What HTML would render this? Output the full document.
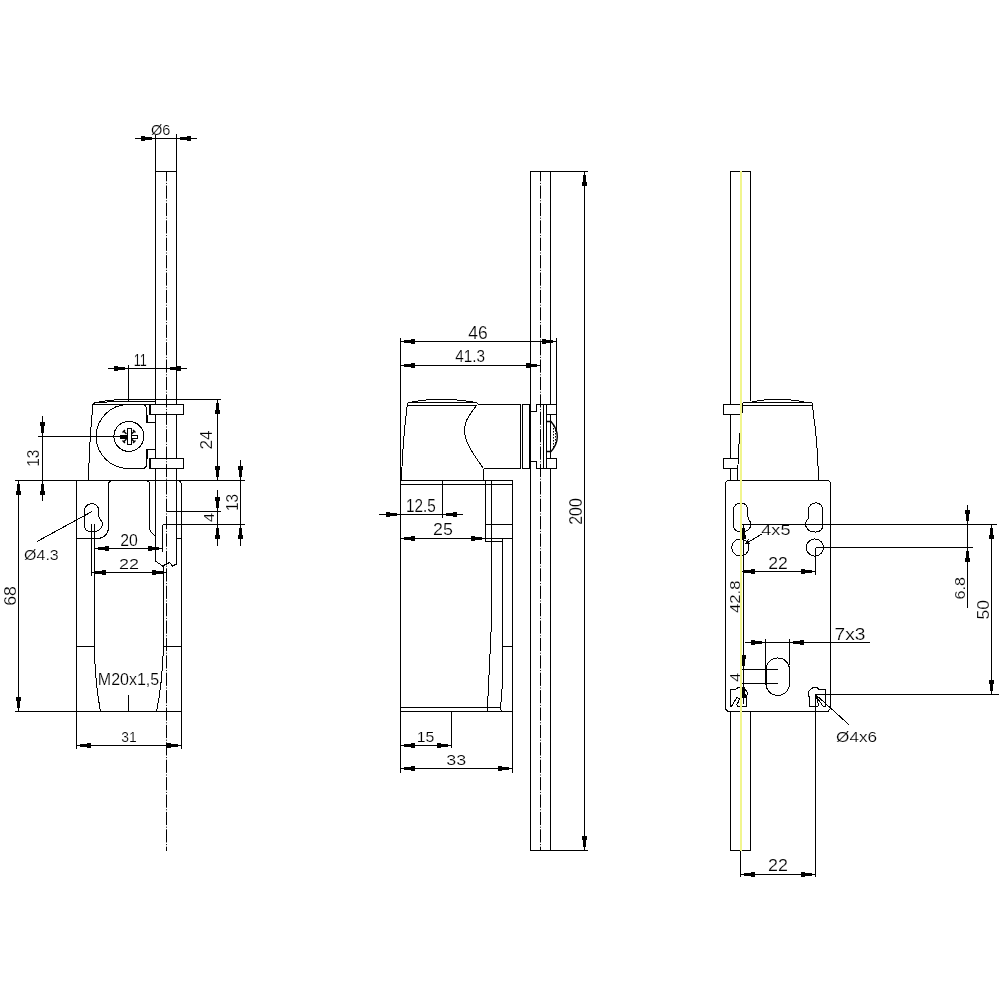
<!DOCTYPE html>
<html lang="en">
<head>
<meta charset="utf-8">
<title>Limit switch dimension drawing</title>
<style>
html,body{margin:0;padding:0;background:#fff;}
body{width:1000px;height:1000px;overflow:hidden;}
svg{display:block;will-change:transform;}
.l{stroke:#000;stroke-width:1;fill:none;shape-rendering:crispEdges;}
.lw{stroke:#000;stroke-width:1;fill:#fff;shape-rendering:crispEdges;}
.lf{stroke:#000;stroke-width:1;fill:#000;shape-rendering:crispEdges;}
.c{stroke:#000;stroke-width:1;fill:none;shape-rendering:crispEdges;}
.ck{stroke:#000;stroke-width:1.4;fill:none;}
.cd{stroke:#000;stroke-width:1;fill:none;stroke-dasharray:1.5 1.5;}
.cl{stroke:#000;stroke-width:1;fill:none;stroke-dasharray:13.2 1.6 1 1.6;stroke-dashoffset:3.4;}
.y{stroke:#f1f58e;stroke-width:2;fill:none;shape-rendering:crispEdges;}
.a{fill:#000;stroke:none;shape-rendering:crispEdges;}
text{font-family:"Liberation Sans",sans-serif;font-size:16px;fill:#000;stroke:#fff;stroke-width:0.18px;}
</style>
</head>
<body>
<svg width="1000" height="1000" viewBox="0 0 1000 1000">
<rect x="0" y="0" width="1000" height="1000" fill="#fff"/>
<line class="l" x1="155.5" y1="133.5" x2="155.5" y2="404.5"/>
<line class="l" x1="176.5" y1="133.5" x2="176.5" y2="404.5"/>
<line class="l" x1="155.5" y1="414.5" x2="155.5" y2="458.5"/>
<line class="l" x1="176.5" y1="414.5" x2="176.5" y2="458.5"/>
<line class="l" x1="155.5" y1="468.5" x2="155.5" y2="561"/>
<line class="l" x1="176.5" y1="468.5" x2="176.5" y2="564"/>
<line class="l" x1="155.5" y1="171.5" x2="176.5" y2="171.5"/>
<line class="cl" x1="166.5" y1="171.5" x2="166.5" y2="851"/>
<line class="l" x1="135" y1="138.5" x2="197" y2="138.5"/>
<rect class="a" x="145.0" y="137.0" width="7.0" height="3.0"/>
<rect class="a" x="141.0" y="136.0" width="4.0" height="5.0"/>
<rect class="a" x="180.0" y="137.0" width="7.0" height="3.0"/>
<rect class="a" x="187.0" y="136.0" width="4.0" height="5.0"/>
<text x="160.75" y="134.5" text-anchor="middle" textLength="19.4" lengthAdjust="spacingAndGlyphs" style="font-size:15.5px">Ø6</text>
<line class="l" x1="108" y1="368.5" x2="187" y2="368.5"/>
<line class="l" x1="128.5" y1="365" x2="128.5" y2="402"/>
<rect class="a" x="118.0" y="367.0" width="7.0" height="3.0"/>
<rect class="a" x="114.0" y="366.0" width="4.0" height="5.0"/>
<rect class="a" x="170.0" y="367.0" width="7.0" height="3.0"/>
<rect class="a" x="177.0" y="366.0" width="4.0" height="5.0"/>
<text x="140.3" y="365.5" text-anchor="middle" textLength="13.1" lengthAdjust="spacingAndGlyphs" style="font-size:16px">11</text>
<line class="l" x1="120" y1="399.5" x2="221" y2="399.5"/>
<path class="c" d="M94.5,403 Q105,400.5 120,399.5"/>
<path class="c" d="M95.5,402.2 L155.5,401.2"/>
<line class="l" x1="93" y1="404.5" x2="149.5" y2="404.5"/>
<path class="c" d="M94.5,402.8 L93,404.5 Q89.3,440 88.5,480.5"/>
<path class="c" d="M155.5,422.5 H146.5 V409 Q146.5,404.5 142,404.5 H128.2 A32,32 0 0 0 128.2,468.5 H142 Q146.5,468.5 146.5,464 V449.5 H155.5"/>
<path class="l" d="M147.5,414.5 V422.5"/>
<path class="l" d="M147.5,449.5 V458.5"/>
<rect class="l" x="149.5" y="404.5" width="34.0" height="10.0"/>
<rect class="l" x="149.5" y="458.5" width="34.0" height="10.0"/>
<line class="l" x1="150.5" y1="404.5" x2="150.5" y2="414.5"/>
<line class="l" x1="150.5" y1="458.5" x2="150.5" y2="468.5"/>
<circle class="c" cx="128.9" cy="436.4" r="15"/>
<rect class="lw" x="127" y="428.5" width="4" height="16.0"/>
<rect class="lw" x="131" y="435" width="6.5" height="3"/>
<rect class="lf" x="120.5" y="435" width="6.5" height="3"/>
<path class="ck" d="M123.5,431 L126.5,434 M134.5,431 L131.5,434 M123.5,442 L126.5,439 M134.5,442 L131.5,439"/>
<path class="ck" d="M122.5,432.5 L125,430 M133,430 L135.5,432.5 M122.5,440.5 L125,443 M133,443 L135.5,440.5"/>
<line class="l" x1="38" y1="436.5" x2="127" y2="436.5"/>
<line class="l" x1="15" y1="480.5" x2="245" y2="480.5"/>
<line class="l" x1="76.5" y1="480.5" x2="76.5" y2="748.5"/>
<path class="c" d="M177,480.5 Q181.5,481 181.5,485.5"/>
<line class="l" x1="181.5" y1="485" x2="181.5" y2="748.5"/>
<line class="l" x1="15" y1="711.5" x2="181.5" y2="711.5"/>
<path class="c" d="M108.5,483 V527.5 A11,11 0 0 1 97.5,538.5 H76.5"/>
<path class="c" d="M108.5,484 Q108.5,481.5 111,481.5"/>
<path class="c" d="M149.5,483 V527.5 Q150,533 155.5,536"/>
<path class="c" d="M149.5,484 Q149.5,481.5 147,481.5"/>
<line class="l" x1="176.5" y1="538.5" x2="181.5" y2="538.5"/>
<line class="l" x1="76.5" y1="646.5" x2="94.5" y2="646.5"/>
<line class="l" x1="164" y1="646.5" x2="181.5" y2="646.5"/>
<line class="l" x1="91.5" y1="524" x2="91.5" y2="576"/>
<path class="c" d="M94.5,524 V652 Q95.3,684 100.5,711.5"/>
<path class="c" d="M163.5,566 V646.5 Q162.3,684 156.5,711.5"/>
<line class="l" x1="128.5" y1="694.5" x2="128.5" y2="711.5"/>
<path class="c" d="M84.5,510 A7.2,7.2 0 0 1 98.8,510 V516 Q99,518.5 101,520.5 Q103.5,523.5 101.5,527 Q99,531.8 93,531.8 H91 Q84.5,531.5 84.5,525 Z"/>
<path class="c" d="M37,541.5 L92,511.5"/>
<text x="24.1" y="559.5" text-anchor="start" textLength="34.6" lengthAdjust="spacingAndGlyphs" style="font-size:15.3px">Ø4.3</text>
<path class="c" d="M155.5,561 L162.5,566 L169.5,562.5 L172.5,566 L176.5,564"/>
<line class="l" x1="94.5" y1="548.5" x2="162.5" y2="548.5"/>
<line class="l" x1="162.5" y1="524.5" x2="162.5" y2="551.5"/>
<rect class="a" x="98.0" y="547.0" width="7.0" height="3.0"/>
<rect class="a" x="105.0" y="546.0" width="4.0" height="5.0"/>
<rect class="a" x="152.0" y="547.0" width="7.0" height="3.0"/>
<rect class="a" x="148.0" y="546.0" width="4.0" height="5.0"/>
<text x="129.1" y="545.8" text-anchor="middle" textLength="17.6" lengthAdjust="spacingAndGlyphs" style="font-size:17px">20</text>
<line class="l" x1="91.5" y1="572.5" x2="166" y2="572.5"/>
<rect class="a" x="95.0" y="571.0" width="7.0" height="3.0"/>
<rect class="a" x="102.0" y="570.0" width="4.0" height="5.0"/>
<rect class="a" x="155.5" y="571.0" width="7.0" height="3.0"/>
<rect class="a" x="151.5" y="570.0" width="4.0" height="5.0"/>
<text x="129.1" y="568.6" text-anchor="middle" textLength="20.0" lengthAdjust="spacingAndGlyphs" style="font-size:15.5px">22</text>
<line class="l" x1="76.5" y1="745.5" x2="181.5" y2="745.5"/>
<rect class="a" x="80.0" y="744.0" width="7.0" height="3.0"/>
<rect class="a" x="87.0" y="743.0" width="4.0" height="5.0"/>
<rect class="a" x="171.0" y="744.0" width="7.0" height="3.0"/>
<rect class="a" x="167.0" y="743.0" width="4.0" height="5.0"/>
<text x="129" y="741.5" text-anchor="middle" textLength="15.4" lengthAdjust="spacingAndGlyphs" style="font-size:15px">31</text>
<line class="l" x1="18.5" y1="480.5" x2="18.5" y2="711.5"/>
<rect class="a" x="17.0" y="484.0" width="3.0" height="7.0"/>
<rect class="a" x="16.0" y="491.0" width="5.0" height="4.0"/>
<rect class="a" x="17.0" y="701.0" width="3.0" height="7.0"/>
<rect class="a" x="16.0" y="697.0" width="5.0" height="4.0"/>
<text transform="translate(16 596) rotate(-90)" text-anchor="middle" textLength="19.6" lengthAdjust="spacingAndGlyphs" style="font-size:16.5px">68</text>
<line class="l" x1="42.5" y1="416" x2="42.5" y2="500.5"/>
<rect class="a" x="41.0" y="426.0" width="3.0" height="7.0"/>
<rect class="a" x="40.0" y="422.0" width="5.0" height="4.0"/>
<rect class="a" x="41.0" y="484.0" width="3.0" height="7.0"/>
<rect class="a" x="40.0" y="491.0" width="5.0" height="4.0"/>
<text transform="translate(38.8 458.2) rotate(-90)" text-anchor="middle" textLength="17.0" lengthAdjust="spacingAndGlyphs" style="font-size:16.2px">13</text>
<line class="l" x1="217.5" y1="399.5" x2="217.5" y2="480.5"/>
<rect class="a" x="216.0" y="403.0" width="3.0" height="7.0"/>
<rect class="a" x="215.0" y="410.0" width="5.0" height="4.0"/>
<rect class="a" x="216.0" y="470.0" width="3.0" height="7.0"/>
<rect class="a" x="215.0" y="466.0" width="5.0" height="4.0"/>
<text transform="translate(211.8 440) rotate(-90)" text-anchor="middle" textLength="19.0" lengthAdjust="spacingAndGlyphs" style="font-size:16px">24</text>
<line class="l" x1="240.5" y1="460" x2="240.5" y2="545.5"/>
<rect class="a" x="239.0" y="470.0" width="3.0" height="7.0"/>
<rect class="a" x="238.0" y="466.0" width="5.0" height="4.0"/>
<rect class="a" x="239.0" y="528.0" width="3.0" height="7.0"/>
<rect class="a" x="238.0" y="535.0" width="5.0" height="4.0"/>
<text transform="translate(237.9 502.6) rotate(-90)" text-anchor="middle" textLength="16.9" lengthAdjust="spacingAndGlyphs" style="font-size:16px">13</text>
<line class="l" x1="217.5" y1="490" x2="217.5" y2="545.5"/>
<rect class="a" x="216.0" y="501.0" width="3.0" height="7.0"/>
<rect class="a" x="215.0" y="497.0" width="5.0" height="4.0"/>
<rect class="a" x="216.0" y="528.0" width="3.0" height="7.0"/>
<rect class="a" x="215.0" y="535.0" width="5.0" height="4.0"/>
<text transform="translate(214.2 517.6) rotate(-90)" text-anchor="middle" textLength="9.4" lengthAdjust="spacingAndGlyphs" style="font-size:15.5px">4</text>
<line class="l" x1="166.5" y1="511.5" x2="221" y2="511.5"/>
<line class="l" x1="162.5" y1="524.5" x2="245" y2="524.5"/>
<text x="97.8" y="684.5" text-anchor="start" textLength="61.4" lengthAdjust="spacingAndGlyphs" style="font-size:16.2px">M20x1,5</text>
<path class="l" d="M587.5,171.5 H530.5 V850.5 H587.5"/>
<line class="l" x1="550.5" y1="171.5" x2="550.5" y2="404.5"/>
<line class="l" x1="550.5" y1="468.5" x2="550.5" y2="850.5"/>
<line class="cl" x1="540.5" y1="171.5" x2="540.5" y2="850.5"/>
<line class="l" x1="584.5" y1="171.5" x2="584.5" y2="850.5"/>
<rect class="a" x="583.0" y="175.0" width="3.0" height="7.0"/>
<rect class="a" x="582.0" y="182.0" width="5.0" height="4.0"/>
<rect class="a" x="583.0" y="840.0" width="3.0" height="7.0"/>
<rect class="a" x="582.0" y="836.0" width="5.0" height="4.0"/>
<text transform="translate(582 511.5) rotate(-90)" text-anchor="middle" textLength="26.6" lengthAdjust="spacingAndGlyphs" style="font-size:17.7px">200</text>
<line class="l" x1="400.5" y1="337.5" x2="400.5" y2="772.5"/>
<line class="l" x1="556.5" y1="337.5" x2="556.5" y2="430"/>
<line class="l" x1="400.5" y1="341.5" x2="556.5" y2="341.5"/>
<rect class="a" x="404.0" y="340.0" width="7.0" height="3.0"/>
<rect class="a" x="411.0" y="339.0" width="4.0" height="5.0"/>
<rect class="a" x="546.0" y="340.0" width="7.0" height="3.0"/>
<rect class="a" x="542.0" y="339.0" width="4.0" height="5.0"/>
<text x="478" y="338.8" text-anchor="middle" textLength="19.4" lengthAdjust="spacingAndGlyphs" style="font-size:18px">46</text>
<line class="l" x1="400.5" y1="365.5" x2="540.5" y2="365.5"/>
<rect class="a" x="404.0" y="364.0" width="7.0" height="3.0"/>
<rect class="a" x="411.0" y="363.0" width="4.0" height="5.0"/>
<rect class="a" x="530.0" y="364.0" width="7.0" height="3.0"/>
<rect class="a" x="526.0" y="363.0" width="4.0" height="5.0"/>
<text x="470.2" y="361.8" text-anchor="middle" textLength="29.8" lengthAdjust="spacingAndGlyphs" style="font-size:16px">41.3</text>
<path class="c" d="M407.5,403 Q402.3,445 401.5,480.5"/>
<line class="l" x1="408" y1="402.5" x2="476.5" y2="402.5"/>
<path class="c" d="M476.5,402.5 L478.5,404.5"/>
<line class="l" x1="407" y1="405.5" x2="476.5" y2="405.5"/>
<line class="l" x1="478" y1="404.5" x2="520.5" y2="404.5"/>
<path class="c" d="M410,402.3 Q416,401.2 422,400.5 Q428,399.6 434,399.5 H449.5 Q456,399.7 462,400.5 Q470,401.5 476,402.4"/>
<path class="c" d="M476.5,405.5 C470.5,414 464.5,420 464.5,430 C464.5,443 474,455 483.5,468.5"/>
<line class="l" x1="520.5" y1="404.5" x2="520.5" y2="468.5"/>
<line class="l" x1="483.5" y1="468.5" x2="520.5" y2="468.5"/>
<line class="l" x1="483.5" y1="468.5" x2="483.5" y2="480.5"/>
<rect class="l" x="522.5" y="404.5" width="7.0" height="64.0"/>
<path class="c" d="M529.5,411.5 H536.5 V404.5 H556.5"/>
<path class="c" d="M529.5,461.5 H536.5 V468.5 H556.5"/>
<line class="l" x1="543.5" y1="404.5" x2="543.5" y2="468.5"/>
<line class="l" x1="546.5" y1="404.5" x2="546.5" y2="468.5"/>
<path class="c" d="M546.5,414.5 H556.5 M556.5,404.5 V430 M546.5,458.5 H556.5 V468.5"/>
<path class="c" d="M550.5,414.5 V458.5"/>
<path class="ck" d="M546.5,421.5 H551 Q557.5,429 557.3,437 Q557,445 551,451.5 H546.5"/>
<path class="cd" d="M553.5,425 L553.5,448 M555.5,430 L555.5,444"/>
<line class="l" x1="400.5" y1="480.5" x2="512.5" y2="480.5"/>
<line class="l" x1="400.5" y1="484.5" x2="512.5" y2="484.5"/>
<line class="l" x1="512.5" y1="480.5" x2="512.5" y2="772.5"/>
<line class="l" x1="485.5" y1="480.5" x2="485.5" y2="541.5"/>
<line class="l" x1="485.5" y1="524.5" x2="512.5" y2="524.5"/>
<line class="l" x1="485.5" y1="541.5" x2="502.5" y2="541.5"/>
<line class="l" x1="485.5" y1="538.5" x2="512.5" y2="538.5"/>
<path class="c" d="M491.5,480.5 V622 L487.3,711.5"/>
<path class="c" d="M502.5,538.5 V683 L500.5,708 L501.5,711.5"/>
<line class="l" x1="502.5" y1="646.5" x2="512.5" y2="646.5"/>
<line class="l" x1="400.5" y1="707.5" x2="500.5" y2="707.5"/>
<line class="l" x1="400.5" y1="711.5" x2="512.5" y2="711.5"/>
<line class="l" x1="442.5" y1="480.5" x2="442.5" y2="517.5"/>
<line class="l" x1="379" y1="514.5" x2="462.5" y2="514.5"/>
<rect class="a" x="390.0" y="513.0" width="7.0" height="3.0"/>
<rect class="a" x="386.0" y="512.0" width="4.0" height="5.0"/>
<rect class="a" x="446.0" y="513.0" width="7.0" height="3.0"/>
<rect class="a" x="453.0" y="512.0" width="4.0" height="5.0"/>
<text x="420.8" y="511.8" text-anchor="middle" textLength="29.8" lengthAdjust="spacingAndGlyphs" style="font-size:17.7px">12.5</text>
<line class="l" x1="400.5" y1="538.5" x2="485.5" y2="538.5"/>
<rect class="a" x="404.0" y="537.0" width="7.0" height="3.0"/>
<rect class="a" x="411.0" y="536.0" width="4.0" height="5.0"/>
<rect class="a" x="475.0" y="537.0" width="7.0" height="3.0"/>
<rect class="a" x="471.0" y="536.0" width="4.0" height="5.0"/>
<text x="443" y="534.8" text-anchor="middle" textLength="19.8" lengthAdjust="spacingAndGlyphs" style="font-size:16px">25</text>
<line class="l" x1="400.5" y1="745.5" x2="451.5" y2="745.5"/>
<line class="l" x1="451.5" y1="711.5" x2="451.5" y2="747.5"/>
<rect class="a" x="404.0" y="744.0" width="7.0" height="3.0"/>
<rect class="a" x="411.0" y="743.0" width="4.0" height="5.0"/>
<rect class="a" x="441.0" y="744.0" width="7.0" height="3.0"/>
<rect class="a" x="437.0" y="743.0" width="4.0" height="5.0"/>
<text x="425.5" y="741.6" text-anchor="middle" textLength="17.6" lengthAdjust="spacingAndGlyphs" style="font-size:15.5px">15</text>
<line class="l" x1="400.5" y1="768.5" x2="512.5" y2="768.5"/>
<rect class="a" x="404.0" y="767.0" width="7.0" height="3.0"/>
<rect class="a" x="411.0" y="766.0" width="4.0" height="5.0"/>
<rect class="a" x="502.0" y="767.0" width="7.0" height="3.0"/>
<rect class="a" x="498.0" y="766.0" width="4.0" height="5.0"/>
<text x="456.2" y="765.3" text-anchor="middle" textLength="19.9" lengthAdjust="spacingAndGlyphs" style="font-size:15px">33</text>
<path class="l" d="M730.5,404.5 V171.5 H750.5 V401"/>
<line class="l" x1="730.5" y1="414.5" x2="730.5" y2="458.5"/>
<line class="l" x1="730.5" y1="468.5" x2="730.5" y2="480.5"/>
<path class="l" d="M730.5,711.5 V850.5 H750.5 V711.5"/>
<path class="l" d="M741,404.5 H723.5 V414.5 H741"/>
<path class="l" d="M738.5,458.5 H723.5 V468.5 H738"/>
<path class="c" d="M742.8,403 L741.5,420 Q739.5,437 738.5,450 L737.5,480.5"/>
<path class="c" d="M811.5,402.5 Q812.3,403 812.5,405 L813.5,415 L815.5,430 Q817.8,452 818.5,480.5"/>
<line class="l" x1="743" y1="402.5" x2="811.5" y2="402.5"/>
<path class="c" d="M750,402.3 Q760,400.3 769,399.5 H786 Q797,400.3 806,402.3"/>
<line class="l" x1="742.5" y1="405.5" x2="812.5" y2="405.5"/>
<path class="c" d="M725.5,709 V483.5 Q725.5,480.5 728.5,480.5 H827.5 Q830.5,480.5 830.5,483.5 V708 L828,711.5 H728 L725.5,709 Z"/>
<path class="c" d="M733.5,510 A7.2,7.2 0 0 1 747.9,510 V517 Q748,519 749.5,520.5 Q752,524 750,527.5 Q747.5,532 741.5,532 H740.5 Q733.5,531.5 733.5,525 Z"/>
<path class="c" d="M822.9,510 A7.2,7.2 0 0 0 808.5,510 V517 Q808.4,519 806.9,520.5 Q804.4,524 806.4,527.5 Q808.9,532 814.9,532 H815.9 Q822.9,531.5 822.9,525 Z"/>
<circle class="c" cx="740.3" cy="547.5" r="8.6"/>
<circle class="c" cx="814.9" cy="547.5" r="8.6"/>
<line class="l" x1="741.5" y1="524.5" x2="997" y2="524.5"/>
<line class="l" x1="815.5" y1="547.5" x2="973" y2="547.5"/>
<line class="l" x1="815.5" y1="694.5" x2="999" y2="694.5"/>
<line class="l" x1="967.5" y1="504.5" x2="967.5" y2="608"/>
<rect class="a" x="966.0" y="514.0" width="3.0" height="7.0"/>
<rect class="a" x="965.0" y="510.0" width="5.0" height="4.0"/>
<rect class="a" x="966.0" y="551.0" width="3.0" height="7.0"/>
<rect class="a" x="965.0" y="558.0" width="5.0" height="4.0"/>
<text transform="translate(964.75 588.25) rotate(-90)" text-anchor="middle" textLength="22.4" lengthAdjust="spacingAndGlyphs" style="font-size:15.5px">6.8</text>
<line class="l" x1="991.5" y1="524.5" x2="991.5" y2="694.5"/>
<rect class="a" x="990.0" y="528.0" width="3.0" height="7.0"/>
<rect class="a" x="989.0" y="535.0" width="5.0" height="4.0"/>
<rect class="a" x="990.0" y="684.0" width="3.0" height="7.0"/>
<rect class="a" x="989.0" y="680.0" width="5.0" height="4.0"/>
<text transform="translate(988.75 609.7) rotate(-90)" text-anchor="middle" textLength="19.4" lengthAdjust="spacingAndGlyphs" style="font-size:16.1px">50</text>
<line class="l" x1="740" y1="571.5" x2="815.5" y2="571.5"/>
<line class="l" x1="815.5" y1="547.5" x2="815.5" y2="574.5"/>
<rect class="a" x="744.0" y="570.0" width="7.0" height="3.0"/>
<rect class="a" x="751.0" y="569.0" width="4.0" height="5.0"/>
<rect class="a" x="805.0" y="570.0" width="7.0" height="3.0"/>
<rect class="a" x="801.0" y="569.0" width="4.0" height="5.0"/>
<text x="778.1" y="568.6" text-anchor="middle" textLength="19.6" lengthAdjust="spacingAndGlyphs" style="font-size:16.8px">22</text>
<line class="l" x1="743.5" y1="524.5" x2="743.5" y2="704"/>
<rect class="a" x="742.0" y="528.0" width="3.0" height="7.0"/>
<rect class="a" x="741.0" y="535.0" width="5.0" height="4.0"/>
<rect class="a" x="742.0" y="659.0" width="3.0" height="7.0"/>
<rect class="a" x="741.0" y="655.0" width="5.0" height="4.0"/>
<rect class="a" x="742.0" y="687.0" width="3.0" height="7.0"/>
<rect class="a" x="741.0" y="694.0" width="5.0" height="4.0"/>
<text transform="translate(739.5 596.8) rotate(-90)" text-anchor="middle" textLength="32.4" lengthAdjust="spacingAndGlyphs" style="font-size:15px">42.8</text>
<text transform="translate(739.5 677.25) rotate(-90)" text-anchor="middle" textLength="8.9" lengthAdjust="spacingAndGlyphs" style="font-size:14.5px">4</text>
<line class="l" x1="741" y1="669.5" x2="778" y2="669.5"/>
<line class="l" x1="741" y1="683.5" x2="778" y2="683.5"/>
<line class="l" x1="745" y1="642.5" x2="870" y2="642.5"/>
<line class="l" x1="765.5" y1="638.5" x2="765.5" y2="684.5"/>
<line class="l" x1="789.5" y1="638.5" x2="789.5" y2="665"/>
<rect class="a" x="755.0" y="641.0" width="7.0" height="3.0"/>
<rect class="a" x="751.0" y="640.0" width="4.0" height="5.0"/>
<rect class="a" x="793.0" y="641.0" width="7.0" height="3.0"/>
<rect class="a" x="800.0" y="640.0" width="4.0" height="5.0"/>
<text x="834.5999999999999" y="639.6" text-anchor="start" textLength="30.8" lengthAdjust="spacingAndGlyphs" style="font-size:15.8px">7x3</text>
<path class="c" d="M766,669.7 A11.75,11.75 0 0 1 789.5,669.7 V683.7 A11.75,11.75 0 0 1 766,683.7 Z"/>
<path class="c" d="M731.5,706.5 H730.5 V689.5 H735.5 L738.8,687.2 H742 Q745.8,688.5 747.5,693.2 L746.5,697.2 V706.5 H737"/>
<path class="c" d="M731.5,706.5 L736.8,697.6 L739.6,698.4 L738.4,702 L736.4,704.5 L738,706.5"/>
<path class="c" d="M818,706.5 H809.5 V697 L808.5,696 V691.2 L813.2,687.4 H816.8 L819.2,689.6 H825.5 V706.5 H823.2"/>
<line class="l" x1="815.5" y1="694.5" x2="815.5" y2="877"/>
<path class="c" d="M816,696 L823.2,706.5 M815.8,697 Q818.8,701 818,706.5"/>
<path class="c" d="M848.8,724.5 L815.5,694.5"/>
<text x="836.0999999999999" y="742.2" text-anchor="start" textLength="41.0" lengthAdjust="spacingAndGlyphs" style="font-size:15.5px">Ø4x6</text>
<text x="761.3" y="535" text-anchor="start" textLength="29.2" lengthAdjust="spacingAndGlyphs" style="font-size:14.5px">4x5</text>
<path class="c" d="M762,534 L745,544"/>
<path class="c" d="M745,544 L748.5,539.5 M745,544 L750.5,543.5"/>
<line class="l" x1="740.5" y1="850.5" x2="740.5" y2="877"/>
<line class="l" x1="740.5" y1="874.5" x2="815.5" y2="874.5"/>
<rect class="a" x="744.0" y="873.0" width="7.0" height="3.0"/>
<rect class="a" x="751.0" y="872.0" width="4.0" height="5.0"/>
<rect class="a" x="805.0" y="873.0" width="7.0" height="3.0"/>
<rect class="a" x="801.0" y="872.0" width="4.0" height="5.0"/>
<text x="778" y="870.6" text-anchor="middle" textLength="19.9" lengthAdjust="spacingAndGlyphs" style="font-size:15.8px">22</text>
<line class="y" x1="741" y1="170.5" x2="741" y2="850.5"/>
</svg>
</body>
</html>
